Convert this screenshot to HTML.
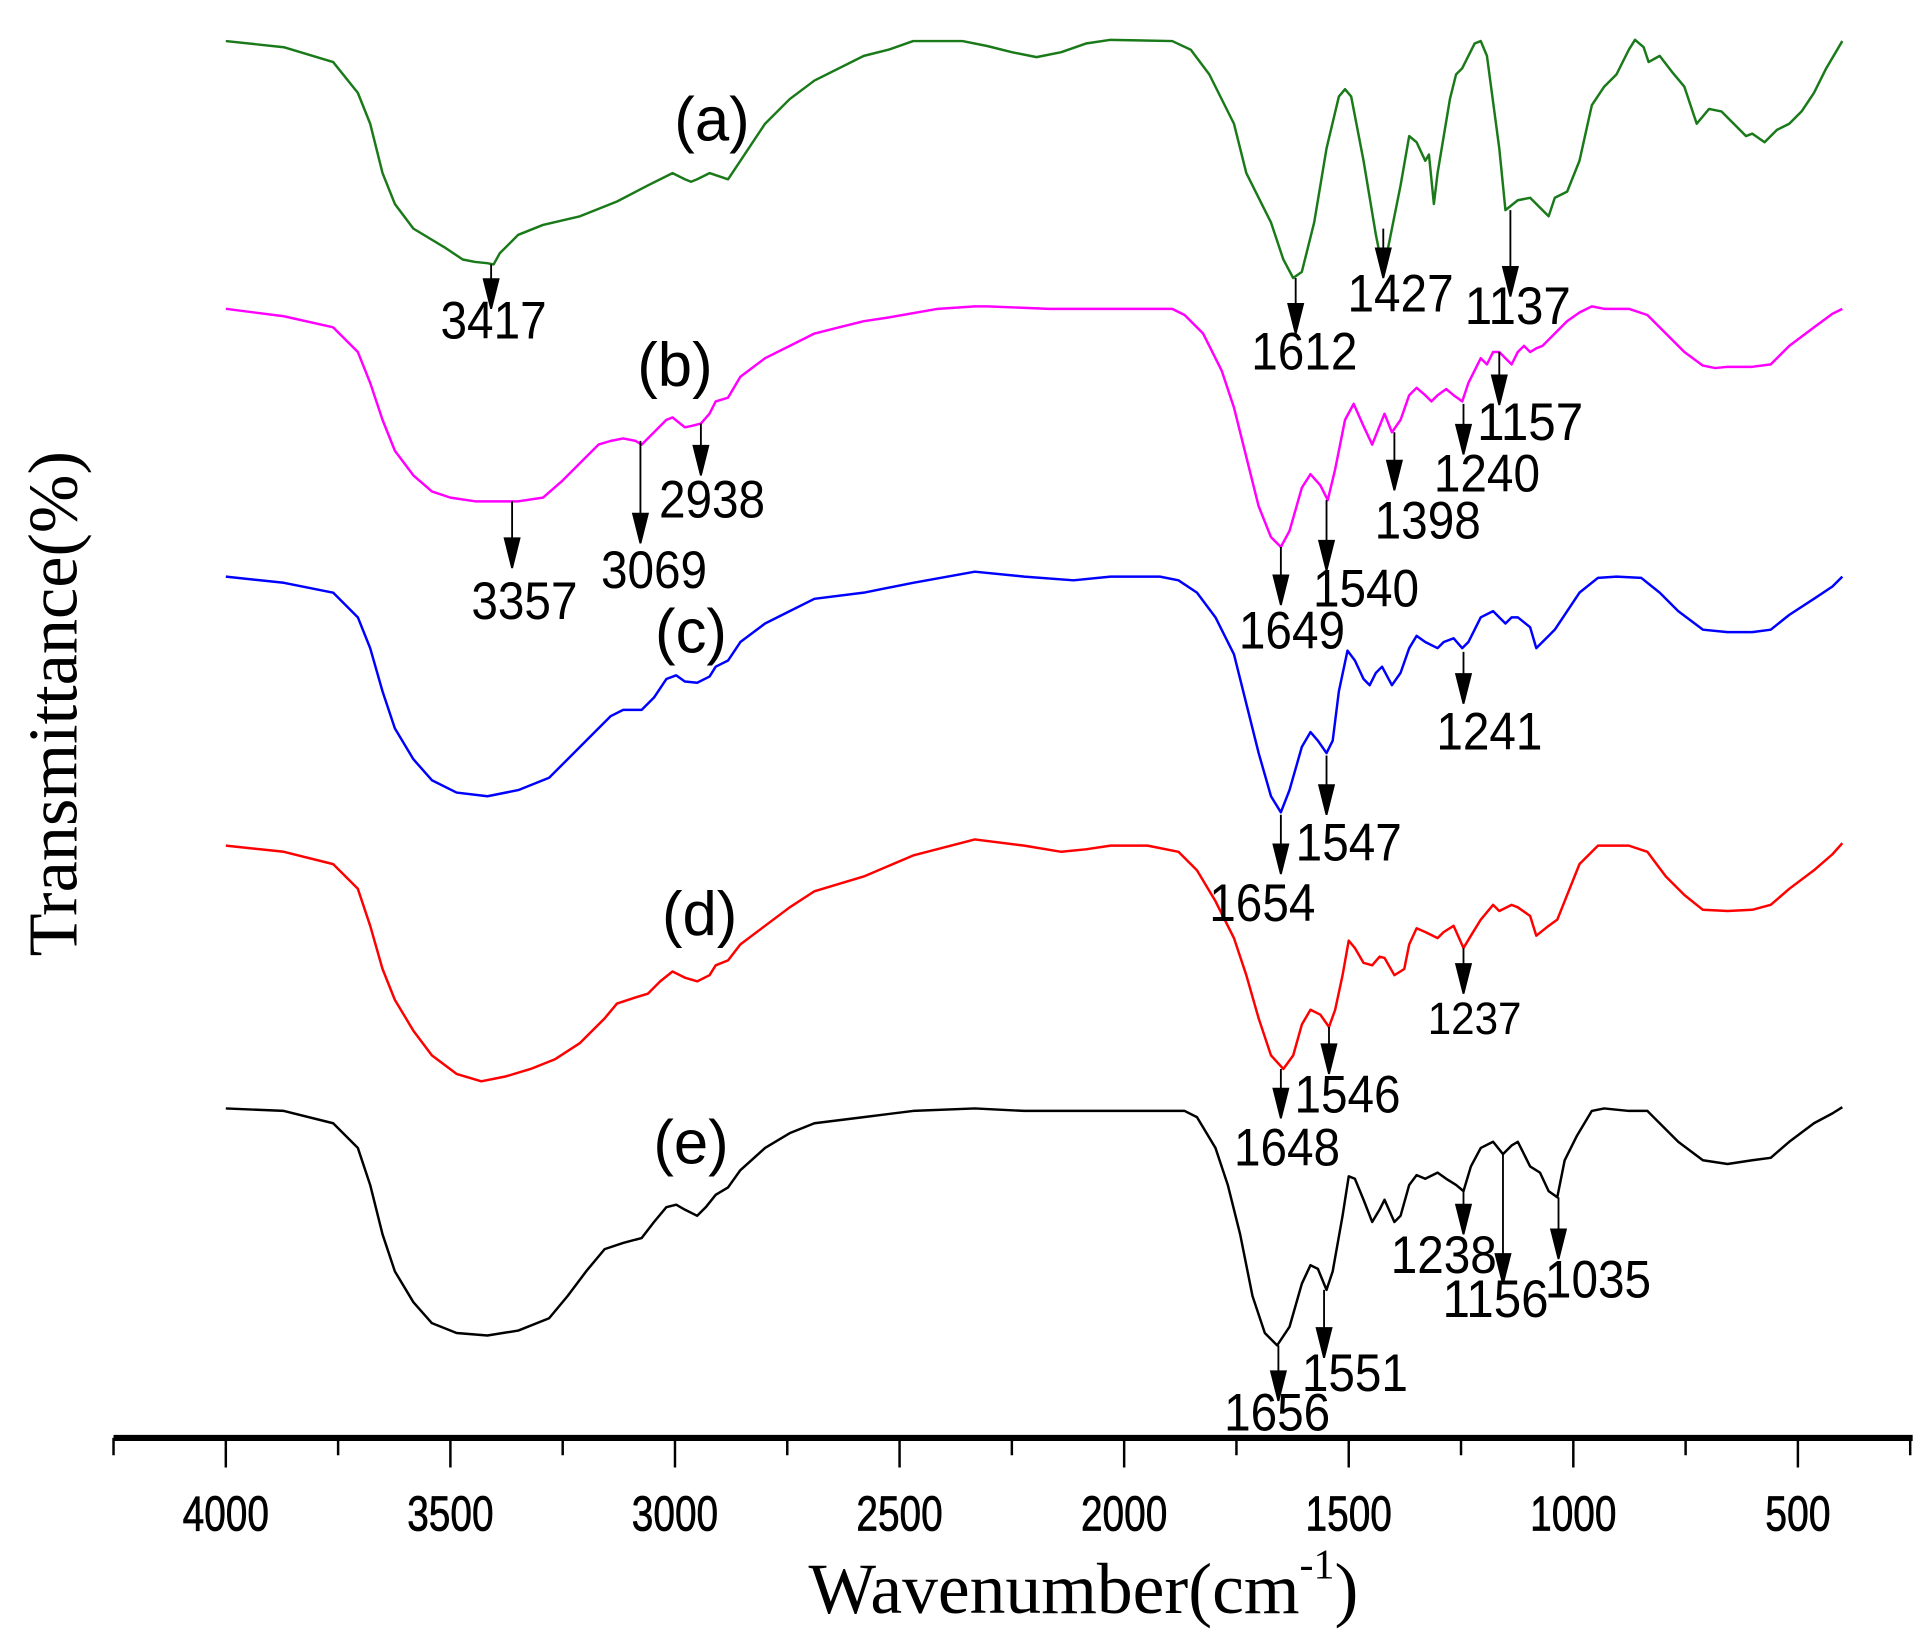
<!DOCTYPE html>
<html><head><meta charset="utf-8"><style>
html,body{margin:0;padding:0;background:#fff;}
svg{display:block;}
</style></head><body>
<svg width="1925" height="1632" viewBox="0 0 1560 1322" xmlns="http://www.w3.org/2000/svg">
<rect width="1560" height="1322" fill="#fff"/>
<g fill="none" stroke-width="2" stroke-linejoin="round">
<polyline stroke="#1a7a1a" points="183,33 230,38 270,50 290,75 300,100 310,140 320,165 335,185 360,200 375,210 385,212 395,213 400,214 405,205 420,190 440,182 470,175 500,163 525,150 545,140 555,145 560,147 565,145 575,140 590,145 600,130 620,100 640,80 660,65 700,45 720,40 740,33 780,33 800,37 820,42 840,46 860,42 880,35 900,32 950,33 965,40 980,60 1000,100 1010,140 1020,160 1030,180 1040,210 1048,225 1055,220 1065,180 1075,120 1085,78 1090,72 1095,78 1105,130 1115,190 1120,215 1125,200 1135,150 1142,110 1148,115 1155,130 1158,125 1162,165 1165,140 1175,80 1180,60 1185,55 1195,35 1200,33 1205,45 1215,120 1220,170 1230,162 1240,160 1250,170 1255,175 1260,160 1270,155 1280,130 1290,85 1300,70 1310,60 1320,40 1325,32 1332,38 1336,50 1345,45 1355,58 1365,70 1375,100 1385,88 1395,90 1405,100 1415,110 1420,108 1430,115 1440,105 1450,100 1460,90 1470,75 1480,55 1493,33"/>
<polyline stroke="#ff00ff" points="183,250 230,256 270,265 290,285 300,310 310,340 320,365 335,385 350,398 365,403 385,406 420,406 440,403 455,390 470,375 485,360 495,357 505,355 515,357 520,360 530,350 540,340 545,338 550,342 555,346 560,345 568,343 575,335 580,325 590,322 600,305 620,290 640,280 660,270 680,265 700,260 720,257 760,250 790,248 800,248 850,250 900,250 950,250 960,255 975,270 990,300 1000,330 1010,370 1020,410 1030,435 1038,443 1045,430 1055,395 1062,384 1070,393 1076,405 1082,380 1090,340 1097,327 1105,345 1112,360 1118,345 1122,335 1128,350 1135,340 1142,320 1148,314 1155,320 1160,325 1165,320 1172,315 1178,320 1185,325 1190,310 1195,300 1200,290 1205,295 1210,285 1215,285 1220,290 1225,295 1230,285 1235,280 1240,285 1245,282 1250,280 1255,275 1260,270 1270,260 1280,253 1290,248 1300,250 1320,250 1335,255 1350,270 1365,285 1380,296 1390,298 1400,297 1420,297 1435,295 1450,280 1470,265 1485,254 1493,250"/>
<polyline stroke="#0000ff" points="183,467 230,472 270,480 290,500 300,525 310,560 320,590 335,615 350,632 370,642 395,645 420,640 445,630 460,615 480,595 495,580 505,575 520,575 530,565 540,550 548,547 555,552 565,553 575,548 580,540 590,535 600,520 620,505 640,495 660,485 700,480 740,472 790,463 830,467 870,470 900,467 940,467 955,470 970,480 985,500 1000,530 1010,570 1020,610 1030,645 1038,658 1045,640 1055,605 1062,593 1068,600 1075,610 1080,600 1085,560 1092,527 1098,535 1105,550 1110,555 1115,545 1120,540 1128,555 1135,545 1142,525 1148,515 1155,520 1165,525 1170,520 1178,517 1185,525 1190,520 1195,510 1200,500 1210,495 1215,500 1220,505 1225,500 1230,500 1240,508 1245,525 1255,515 1260,510 1270,495 1280,480 1295,468 1310,467 1330,468 1345,480 1360,495 1380,510 1400,512 1420,512 1435,510 1450,498 1470,485 1485,475 1493,467"/>
<polyline stroke="#ff0000" points="183,685 230,690 270,700 290,720 300,750 310,785 320,810 335,835 350,855 370,870 390,876 410,872 430,866 450,858 470,845 490,825 500,813 515,808 525,805 535,795 545,787 555,792 565,795 575,790 580,782 590,778 600,765 620,750 640,735 660,722 700,710 740,693 790,680 830,685 860,690 880,688 900,685 930,685 955,690 970,705 985,730 1000,760 1010,790 1020,825 1030,855 1040,866 1048,855 1055,830 1062,818 1070,822 1077,832 1082,818 1088,790 1093,762 1098,768 1105,780 1112,782 1118,775 1122,776 1130,790 1138,785 1142,765 1148,752 1155,755 1165,760 1170,755 1178,750 1186,768 1192,758 1200,745 1210,733 1215,738 1225,733 1230,735 1240,742 1245,758 1255,750 1262,745 1270,725 1280,700 1295,685 1320,685 1335,690 1350,710 1365,725 1380,737 1400,738 1420,737 1435,733 1450,720 1470,705 1485,692 1493,683"/>
<polyline stroke="#000" points="183,898 230,900 270,910 290,930 300,960 310,1000 320,1030 335,1055 350,1072 370,1080 395,1082 420,1078 445,1068 460,1050 475,1030 490,1012 505,1007 520,1003 530,990 540,978 548,976 555,980 565,985 572,978 580,968 590,962 600,948 620,930 640,918 660,910 700,905 740,900 790,898 830,900 900,900 960,900 970,905 985,930 995,960 1005,1000 1015,1050 1025,1080 1035,1090 1045,1075 1055,1040 1062,1025 1068,1028 1075,1045 1080,1030 1088,985 1093,953 1098,955 1105,972 1112,990 1118,980 1122,972 1130,990 1135,985 1142,960 1148,952 1155,955 1165,950 1172,955 1180,960 1186,965 1192,945 1200,930 1210,925 1218,935 1225,928 1230,925 1235,935 1240,945 1248,950 1255,965 1262,970 1268,940 1278,920 1290,900 1300,898 1320,900 1335,900 1345,910 1360,925 1380,940 1400,943 1420,940 1435,938 1450,925 1470,910 1485,902 1493,897"/>
</g>
<g stroke="#000" stroke-width="1.5" fill="#000">
<path d="M398 214V228"/><polygon points="392,226 404,226 398,250"/>
<path d="M1050 225V248"/><polygon points="1044,246 1056,246 1050,270"/>
<path d="M1121 185V203"/><polygon points="1115,201 1127,201 1121,225"/>
<path d="M1224 170V218"/><polygon points="1218,216 1230,216 1224,240"/>
<path d="M415 406V438"/><polygon points="409,436 421,436 415,460"/>
<path d="M519 357V418"/><polygon points="513,416 525,416 519,440"/>
<path d="M568 343V363"/><polygon points="562,361 574,361 568,385"/>
<path d="M1038 443V468"/><polygon points="1032,466 1044,466 1038,490"/>
<path d="M1075 405V440"/><polygon points="1069,438 1081,438 1075,462"/>
<path d="M1130 350V375"/><polygon points="1124,373 1136,373 1130,397"/>
<path d="M1186 327V346"/><polygon points="1180,344 1192,344 1186,368"/>
<path d="M1215 285V306"/><polygon points="1209,304 1221,304 1215,328"/>
<path d="M1038 660V686"/><polygon points="1032,684 1044,684 1038,708"/>
<path d="M1075 612V638"/><polygon points="1069,636 1081,636 1075,660"/>
<path d="M1186 528V548"/><polygon points="1180,546 1192,546 1186,570"/>
<path d="M1038 866V884"/><polygon points="1032,882 1044,882 1038,906"/>
<path d="M1077 832V848"/><polygon points="1071,846 1083,846 1077,870"/>
<path d="M1186 768V783"/><polygon points="1180,781 1192,781 1186,805"/>
<path d="M1036 1090V1113"/><polygon points="1030,1111 1042,1111 1036,1135"/>
<path d="M1073 1045V1078"/><polygon points="1067,1076 1079,1076 1073,1100"/>
<path d="M1186 965V978"/><polygon points="1180,976 1192,976 1186,1000"/>
<path d="M1218 935V1018"/><polygon points="1212,1016 1224,1016 1218,1040"/>
<path d="M1263 970V998"/><polygon points="1257,996 1269,996 1263,1020"/>
</g>
<g font-family="'Liberation Sans', Arial, sans-serif" font-size="43" text-anchor="middle" dominant-baseline="central" fill="#000">
<text x="400" y="260" textLength="86" lengthAdjust="spacingAndGlyphs">3417</text>
<text x="1057" y="285" textLength="86" lengthAdjust="spacingAndGlyphs">1612</text>
<text x="1135" y="238" textLength="86" lengthAdjust="spacingAndGlyphs">1427</text>
<text x="1230" y="248" textLength="86" lengthAdjust="spacingAndGlyphs">1137</text>
<text x="425" y="487" textLength="86" lengthAdjust="spacingAndGlyphs">3357</text>
<text x="530" y="462" textLength="86" lengthAdjust="spacingAndGlyphs">3069</text>
<text x="577" y="405" textLength="86" lengthAdjust="spacingAndGlyphs">2938</text>
<text x="1047" y="511" textLength="86" lengthAdjust="spacingAndGlyphs">1649</text>
<text x="1107" y="477" textLength="86" lengthAdjust="spacingAndGlyphs">1540</text>
<text x="1157" y="422" textLength="86" lengthAdjust="spacingAndGlyphs">1398</text>
<text x="1205" y="384" textLength="86" lengthAdjust="spacingAndGlyphs">1240</text>
<text x="1240" y="342" textLength="86" lengthAdjust="spacingAndGlyphs">1157</text>
<text x="1023" y="732" textLength="86" lengthAdjust="spacingAndGlyphs">1654</text>
<text x="1093" y="683" textLength="86" lengthAdjust="spacingAndGlyphs">1547</text>
<text x="1207" y="593" textLength="86" lengthAdjust="spacingAndGlyphs">1241</text>
<text x="1043" y="930" textLength="86" lengthAdjust="spacingAndGlyphs">1648</text>
<text x="1092" y="887" textLength="86" lengthAdjust="spacingAndGlyphs">1546</text>
<text x="1195" y="825" font-size="37" textLength="76" lengthAdjust="spacingAndGlyphs">1237</text>
<text x="1035" y="1145" textLength="86" lengthAdjust="spacingAndGlyphs">1656</text>
<text x="1098" y="1113" textLength="86" lengthAdjust="spacingAndGlyphs">1551</text>
<text x="1170" y="1017" textLength="86" lengthAdjust="spacingAndGlyphs">1238</text>
<text x="1212" y="1053" textLength="86" lengthAdjust="spacingAndGlyphs">1156</text>
<text x="1295" y="1037" textLength="86" lengthAdjust="spacingAndGlyphs">1035</text>
<g font-size="50">
<text x="577" y="97">(a)</text>
<text x="547" y="296">(b)</text>
<text x="560" y="512">(c)</text>
<text x="567" y="741">(d)</text>
<text x="560" y="926">(e)</text>
</g>
</g>
<line x1="92" y1="1165" x2="1550" y2="1165" stroke="#000" stroke-width="5"/>
<g stroke="#000" stroke-width="2">
<path d="M92 1165v14M183 1165v24M274 1165v14M365 1165v24M456 1165v14M547 1165v24M638 1165v14M729 1165v24M820 1165v14M911 1165v24M1002 1165v14M1093 1165v24M1184 1165v14M1275 1165v24M1366 1165v14M1457 1165v24M1548 1165v14"/>
</g>
<g font-family="'Liberation Sans', Arial, sans-serif" font-size="40" text-anchor="middle" fill="#000" stroke="#000" stroke-width="0.6">
<text x="183" y="1240" textLength="70" lengthAdjust="spacingAndGlyphs">4000</text>
<text x="365" y="1240" textLength="70" lengthAdjust="spacingAndGlyphs">3500</text>
<text x="547" y="1240" textLength="70" lengthAdjust="spacingAndGlyphs">3000</text>
<text x="729" y="1240" textLength="70" lengthAdjust="spacingAndGlyphs">2500</text>
<text x="911" y="1240" textLength="70" lengthAdjust="spacingAndGlyphs">2000</text>
<text x="1093" y="1240" textLength="70" lengthAdjust="spacingAndGlyphs">1500</text>
<text x="1275" y="1240" textLength="70" lengthAdjust="spacingAndGlyphs">1000</text>
<text x="1457" y="1240" textLength="53" lengthAdjust="spacingAndGlyphs">500</text>
</g>
<text x="878" y="1307" font-family="'Liberation Serif', serif" font-size="58" text-anchor="middle" fill="#000">Wavenumber(cm<tspan font-size="34" dy="-28">-1</tspan><tspan dy="28">)</tspan></text>
<text transform="translate(62,570) rotate(-90)" font-family="'Liberation Serif', serif" font-size="57" text-anchor="middle" fill="#000">Transmittance(%)</text>
</svg>
</body></html>
